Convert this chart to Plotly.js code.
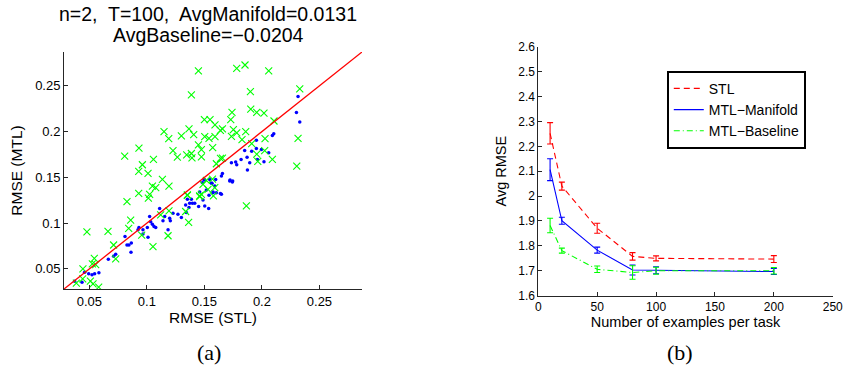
<!DOCTYPE html>
<html>
<head>
<meta charset="utf-8">
<script src="https://cdn.plot.ly/plotly-3.0.1.min.js"></script>
<style>
html,body{margin:0;padding:0;background:#fff;}
#chart{width:846px;height:371px;}
</style>
</head>
<body>
<div id="chart"></div>
<script>
// ---------- Panel (a): scatter of per-task RMSE ----------
const manifoldSTL = [0.2314,0.2300,0.2329,0.2103,0.2091,0.1952,0.1952,0.1911,0.1850,0.1871,0.1819,0.1772,0.1781,0.1735,0.1894,0.1874,0.1961,0.2018,0.2059,0.1996,0.1657,0.1648,0.1723,0.1746,0.1500,0.1482,0.1546,0.1561,0.1598,0.1590,0.1517,0.1575,0.1639,
0.0372,0.0436,0.0459,0.0494,0.0523,0.0546,0.0583,
0.0665,0.0711,0.0729,0.0810,0.0827,0.0844,0.0862,0.0865,0.0931,0.0923,0.0966,0.0966,0.1004,0.1010,0.1024,0.1033,0.1048,0.1062,0.1077,0.1111,0.1140,0.1155,0.1184,0.1198,0.1204,0.1227,0.1270,0.1300,0.1343,0.1337,0.1352,0.1372,0.1387,0.1396,0.1366,0.1416,0.1450,0.1459,0.1488,0.1503,0.1537,0.1566,0.1604,0.1648,0.1575,0.1540,0.1720,0.1743,0.1497];
const manifoldMTL = [0.2384,0.2210,0.2105,0.1978,0.1957,0.1905,0.1815,0.1786,0.1793,0.1721,0.1696,0.1667,0.1638,0.1660,0.1660,0.1580,0.1696,0.1670,0.1768,0.1804,0.1543,0.1514,0.1471,0.1460,0.1478,0.1442,0.1478,0.1435,0.1478,0.1405,0.1362,0.1340,0.1323,
0.0366,0.0355,0.0464,0.0446,0.0435,0.0446,0.0457,
0.0605,0.0638,0.0660,0.0855,0.0761,0.0761,0.0681,0.0783,0.0953,0.0927,0.0927,0.0880,0.0953,0.0845,0.1073,0.1014,0.0989,0.0964,0.0953,0.1160,0.1025,0.1073,0.0927,0.1054,0.1025,0.1109,0.1098,0.1062,0.1116,0.1199,0.1261,0.1217,0.1261,0.1217,0.1171,0.1217,0.1181,0.1340,0.1253,0.1188,0.1160,0.1435,0.1333,0.1315,0.1333,0.1304,0.1460,0.1449,0.1471];

const baselineSTL = [0.0807,0.0931,0.0961,0.0929,0.1010,0.1057,0.1135,0.1192,0.1149,0.1190,0.1227,0.1265,0.1300,0.1366,0.1407,0.1346,0.1387,0.1392,0.1448,0.1474,0.1474,0.1448,0.1387,0.1503,0.1500,0.1549,0.1592,0.1540,0.1592,0.1572,0.1639,0.1657,0.1604,0.1657,0.1729,0.1740,0.1735,0.1752,0.1781,0.1781,0.1853,0.1859,0.1827,0.1900,0.1903,0.1955,0.2018,0.2059,0.2027,0.2024,0.1955,0.1964,0.2091,0.2105,0.2329,0.2314,0.2303,0.1911,0.1640,0.1352,0.1459,
0.0387,0.0444,0.0442,0.0509,0.0532,0.0581,0.0543,0.0526,0.0555,0.0479,0.0662,0.0711,0.0729,0.0842,0.0859,0.0955,0.1053,0.0827,0.0929,0.1013,0.1024,0.1048,0.1077,0.1120,0.1192,0.1184,0.1337,0.1363,0.1352,0.1459,0.1474,0.1488,0.1531,0.1578,0.1590,0.1517,0.1865,0.1570];
const baselineMTL = [0.1732,0.1819,0.1638,0.1565,0.1543,0.1696,0.1478,0.1405,0.2000,0.1924,0.1793,0.1721,0.1953,0.2029,0.1967,0.1747,0.1761,0.1714,0.1855,0.1804,0.1725,0.2663,0.2402,0.1946,0.2130,0.2130,0.2073,0.1927,0.1946,0.1826,0.2014,0.2029,0.1649,0.1710,0.2130,0.2210,0.1949,0.2022,0.1986,0.2692,0.2728,0.2000,0.1913,0.2438,0.2247,0.2210,0.2203,0.2663,0.1924,0.1793,0.1753,0.1674,0.1696,0.2116,0.2467,0.1927,0.1623,0.1870,0.1707,0.1304,0.1297,
0.0345,0.0500,0.0391,0.0366,0.0337,0.0301,0.0616,0.0554,0.0547,0.0905,0.0909,0.0761,0.0609,0.0942,0.1033,0.0870,0.0742,0.1236,0.1326,0.1272,0.1315,0.1405,0.1388,0.1090,0.1134,0.0862,0.1127,0.1007,0.1308,0.1290,0.1315,0.1424,0.1370,0.1297,0.1388,0.1467,0.1188,0.1480];

const diagX = [0.028, 0.287];
const diagY = [0.028, 0.287];

const titleLine1 = "n=2,\u00a0 T=100,\u00a0 AvgManifold=0.0131";
const titleLine2 = "AvgBaseline=\u22120.0204";

// ---------- Panel (b): Avg RMSE vs examples per task ----------
const nExamples = [10, 20, 50, 80, 100, 200];
const stlMean = [2.252, 2.040, 1.871, 1.758, 1.750, 1.747];
const stlErr  = [0.043, 0.016, 0.020, 0.015, 0.010, 0.014];
const manMean = [2.106, 1.901, 1.783, 1.703, 1.702, 1.697];
const manErr  = [0.044, 0.014, 0.012, 0.020, 0.014, 0.012];
const basMean = [1.882, 1.781, 1.706, 1.693, 1.700, 1.700];
const basErr  = [0.029, 0.010, 0.013, 0.027, 0.014, 0.013];
const seriesNames = ["STL", "MTL\u2212Manifold", "MTL\u2212Baseline"];

const RED = "#ff0000", BLUE = "#0000ff", GREEN = "#00ff00";
const AX = "#262626";
const FONT = "Liberation Sans, Arial, sans-serif";
const SERIF = "Liberation Serif, Times New Roman, serif";

const traces = [
  {x: manifoldSTL, y: manifoldMTL, type: "scatter", mode: "markers", xaxis: "x", yaxis: "y",
   marker: {symbol: "circle", size: 3.5, color: BLUE}, showlegend: false},
  {x: baselineSTL, y: baselineMTL, type: "scatter", mode: "markers", xaxis: "x", yaxis: "y",
   marker: {symbol: "x-thin", size: 7, color: GREEN, line: {color: GREEN, width: 1.1}}, showlegend: false},
  {x: diagX, y: diagY, type: "scatter", mode: "lines", xaxis: "x", yaxis: "y",
   line: {color: RED, width: 1.3}, showlegend: false},

  {x: nExamples, y: stlMean, type: "scatter", mode: "lines", xaxis: "x2", yaxis: "y2", name: seriesNames[0],
   line: {color: RED, width: 1.1, dash: "6px,4px"},
   error_y: {type: "data", array: stlErr, visible: true, color: RED, thickness: 1.1, width: 3}},
  {x: nExamples, y: manMean, type: "scatter", mode: "lines", xaxis: "x2", yaxis: "y2", name: seriesNames[1],
   line: {color: BLUE, width: 1.1},
   error_y: {type: "data", array: manErr, visible: true, color: BLUE, thickness: 1.1, width: 3}},
  {x: nExamples, y: basMean, type: "scatter", mode: "lines", xaxis: "x2", yaxis: "y2", name: seriesNames[2],
   line: {color: GREEN, width: 1.1, dash: "6px,3px,1px,3px"},
   error_y: {type: "data", array: basErr, visible: true, color: GREEN, thickness: 1.1, width: 3}}
];

const axCommon = {
  showline: true, linecolor: AX, linewidth: 1, mirror: false,
  ticks: "inside", ticklen: 4, tickcolor: AX, tickwidth: 1,
  showgrid: false, zeroline: false,
  tickfont: {family: FONT, size: 13, color: "#000"}
};

const layout = {
  width: 846, height: 371,
  margin: {l: 0, r: 0, t: 0, b: 0},
  paper_bgcolor: "#fff", plot_bgcolor: "#fff",
  font: {family: FONT, color: "#000"},
  xaxis: Object.assign({}, axCommon, {
    domain: [0.0757, 0.4279], range: [0.028, 0.287], anchor: "y",
    tickvals: [0.05, 0.1, 0.15, 0.2, 0.25], ticktext: ["0.05","0.1","0.15","0.2","0.25"],
    title: {text: "RMSE (STL)", font: {family: FONT, size: 15.5}, standoff: 3}
  }),
  yaxis: Object.assign({}, axCommon, {
    domain: [0.2210, 0.8598], range: [0.028, 0.287], anchor: "x",
    tickvals: [0.05, 0.1, 0.15, 0.2, 0.25], ticktext: ["0.05","0.1","0.15","0.2","0.25"],
    title: {text: "RMSE (MTL)", font: {family: FONT, size: 15.5}, standoff: 8}
  }),
  xaxis2: Object.assign({}, axCommon, {
    domain: [0.6363, 0.9843], range: [0, 250], anchor: "y2",
    tickvals: [0, 50, 100, 150, 200, 250],
    tickfont: {family: FONT, size: 12, color: "#000"},
    title: {text: "Number of examples per task", font: {family: FONT, size: 14.5}, standoff: 3}
  }),
  yaxis2: Object.assign({}, axCommon, {
    domain: [0.2030, 0.8741], range: [1.6, 2.6], anchor: "x2",
    tickvals: [1.6,1.7,1.8,1.9,2.0,2.1,2.2,2.3,2.4,2.5,2.6],
    ticktext: ["1.6","1.7","1.8","1.9","2","2.1","2.2","2.3","2.4","2.5","2.6"],
    tickfont: {family: FONT, size: 12, color: "#000"},
    title: {text: "Avg RMSE", font: {family: FONT, size: 14.5}, standoff: 8}
  }),
  showlegend: true,
  legend: {
    x: 0.7884, y: 0.8086, xanchor: "left", yanchor: "top",
    bgcolor: "#fff", bordercolor: "#000", borderwidth: 1.8,
    font: {family: FONT, size: 14, color: "#000"},
    tracegroupgap: 0, itemwidth: 30
  },
  annotations: [
    {text: titleLine1, x: 208, y: 371 - 13.5, xref: "paper", yref: "paper", showarrow: false,
     font: {family: FONT, size: 19.5}, xanchor: "center", yanchor: "middle"},
    {text: titleLine2, x: 208, y: 371 - 34.5, xref: "paper", yref: "paper", showarrow: false,
     font: {family: FONT, size: 19.5}, xanchor: "center", yanchor: "middle"},
    {text: "(a)", x: 209, y: 371 - 352, xref: "paper", yref: "paper", showarrow: false,
     font: {family: SERIF, size: 22}, xanchor: "center", yanchor: "middle"},
    {text: "(b)", x: 680, y: 371 - 352, xref: "paper", yref: "paper", showarrow: false,
     font: {family: SERIF, size: 22}, xanchor: "center", yanchor: "middle"}
  ]
};
// convert pixel positions of annotations to paper fractions
layout.annotations.forEach(a => { a.x = a.x / 846; a.y = a.y / 371; });

Plotly.newPlot("chart", traces, layout, {displayModeBar: false, staticPlot: true});
</script>
</body>
</html>
